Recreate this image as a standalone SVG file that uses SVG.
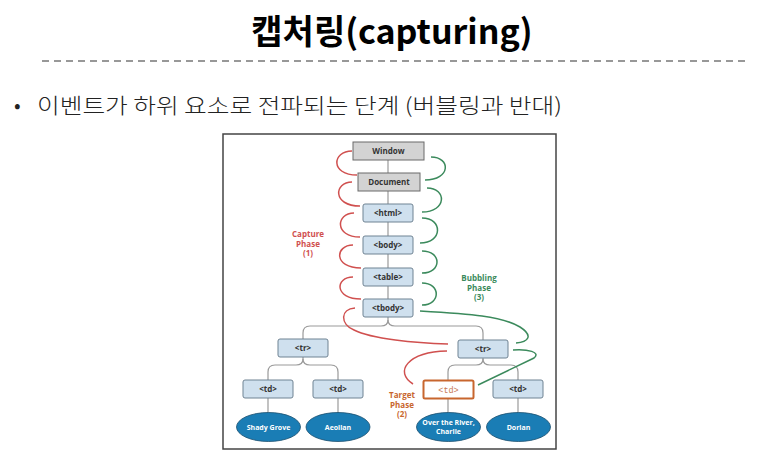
<svg xmlns="http://www.w3.org/2000/svg" width="783" height="468" viewBox="0 0 783 468">
  <style>
    .title { font-family: "Noto Sans CJK KR", "Noto Sans", sans-serif; font-weight: 700; font-size: 34px; fill: #000; }
    .bullet { font-family: "Noto Sans CJK KR", "Noto Sans", sans-serif; font-weight: 300; font-size: 21px; fill: #222; }
    .gbox { fill: #d3d3d3; stroke: #6a6a6a; stroke-width: 1; }
    .bbox { fill: #cfe0ee; stroke: #6f8393; stroke-width: 1; }
    .lbl { font-family: "Open Sans", "Liberation Sans", sans-serif; font-weight: 700; font-size: 8px; fill: #333; text-anchor: middle; }
    .leaf { fill: #1a7db5; stroke: #1b4f6e; stroke-width: 0.8; }
    .leaftxt { font-family: "Open Sans", "Liberation Sans", sans-serif; font-weight: 700; font-size: 7px; fill: #fff; text-anchor: middle; }
    .tree { fill: none; stroke: #9a9a9a; stroke-width: 1.2; }
    .cap { fill: none; stroke: #d0504f; stroke-width: 1.5; }
    .bub { fill: none; stroke: #3b8a5c; stroke-width: 1.5; }
    .phase { font-family: "Open Sans", "Liberation Sans", sans-serif; font-weight: 700; font-size: 8px; text-anchor: middle; }
  </style>

  <!-- heading -->
  <text class="title" x="392" y="44" text-anchor="middle">캡처링(capturing)</text>
  <line x1="42" y1="61" x2="748" y2="61" stroke="#333" stroke-width="1.2" stroke-dasharray="7 5"/>
  <text class="bullet" x="14" y="113">•</text>
  <text class="bullet" x="37" y="113" textLength="525" lengthAdjust="spacingAndGlyphs">이벤트가 하위 요소로 전파되는 단계 (버블링과 반대)</text>

  <!-- figure frame -->
  <rect x="223" y="134" width="333" height="315" fill="#fff" stroke="#444" stroke-width="1.5"/>

  <g id="connectors">
    <!-- DOM tree links -->
    <g class="tree">
      <line x1="388" y1="160" x2="388" y2="173"/>
      <line x1="388" y1="191" x2="388" y2="204"/>
      <line x1="388" y1="222" x2="388" y2="236"/>
      <line x1="388" y1="254" x2="388" y2="268"/>
      <line x1="388" y1="286" x2="388" y2="299"/>
      <path d="M388,317 V320 Q388,326 381,326 H310 Q303,326 303,333 V339"/>
      <path d="M388,320 Q388,326 395,326 H476 Q483,326 483,333 V340"/>
      <path d="M303,357 V359 Q303,365 296,365 H275 Q268,365 268,372 V380"/>
      <path d="M303,359 Q303,365 310,365 H331 Q338,365 338,372 V380"/>
      <path d="M483,358 V359 Q483,365 476,365 H455 Q448,365 448,372 V380"/>
      <path d="M483,359 Q483,365 490,365 H511 Q518,365 518,372 V380"/>
      <line x1="268" y1="398" x2="268" y2="413"/>
      <line x1="338" y1="398" x2="338" y2="413"/>
      <line x1="448" y1="399" x2="448" y2="413"/>
      <line x1="518" y1="398" x2="518" y2="413"/>
    </g>
    <!-- capture phase arcs -->
    <g class="cap">
      <path d="M352,151 C332,151 330,175 357,175"/>
      <path d="M352,182 C334,182 332,206 360,206"/>
      <path d="M354,213 C336,213 334,237 360,237"/>
      <path d="M353,245 C335,245 333,268 361,268"/>
      <path d="M353,277 C335,277 334,299 361,299"/>
      <path d="M355,308 C340,309 340,324 354,330 C372,339 415,343 448,344"/>
      <path d="M447,351 C407,352 394,372 413,384"/>
    </g>
    <!-- bubbling phase arcs -->
    <g class="bub">
      <path d="M431,157 C451,157 451,180 425,180"/>
      <path d="M427,188 C447,188 447,212 422,212"/>
      <path d="M422,218 C443,218 443,243 420,243"/>
      <path d="M422,251 C442,251 442,273 422,273"/>
      <path d="M422,283 C441,283 441,305 422,305"/>
      <path d="M420,311 C470,314 502,316 520,327 C534,336 528,342 516,343"/>
      <path d="M513,350 C528,349 541,352 534,358 L478,385"/>
    </g>
  </g>

  <!-- document nodes -->
  <g id="window"><rect class="gbox" x="353" y="142" width="71" height="18"/><text class="lbl" x="388.5" y="154">Window</text></g>
  <g id="document"><rect class="gbox" x="358" y="173" width="62" height="18"/><text class="lbl" x="389" y="185">Document</text></g>
  <g id="html"><rect class="bbox" x="363" y="204" width="50" height="18" rx="2"/><text class="lbl" x="388" y="216">&lt;html&gt;</text></g>
  <g id="body"><rect class="bbox" x="363" y="236" width="50" height="18" rx="2"/><text class="lbl" x="388" y="248">&lt;body&gt;</text></g>
  <g id="table"><rect class="bbox" x="363" y="268" width="50" height="18" rx="2"/><text class="lbl" x="388" y="280">&lt;table&gt;</text></g>
  <g id="tbody"><rect class="bbox" x="363" y="299" width="50" height="18" rx="2"/><text class="lbl" x="388" y="311">&lt;tbody&gt;</text></g>
  <g id="tr-left"><rect class="bbox" x="278" y="339" width="50" height="18" rx="2"/><text class="lbl" x="303" y="351">&lt;tr&gt;</text></g>
  <g id="tr-right"><rect class="bbox" x="458" y="340" width="50" height="18" rx="2"/><text class="lbl" x="483" y="352">&lt;tr&gt;</text></g>
  <g id="td-1"><rect class="bbox" x="243" y="380" width="50" height="18" rx="2"/><text class="lbl" x="268" y="392">&lt;td&gt;</text></g>
  <g id="td-2"><rect class="bbox" x="313" y="380" width="50" height="18" rx="2"/><text class="lbl" x="338" y="392">&lt;td&gt;</text></g>
  <g id="td-target"><rect x="423.5" y="380.5" width="50" height="18" rx="1.5" fill="#fff" stroke="#c8662e" stroke-width="2"/><text x="448.5" y="392.5" text-anchor="middle" font-family="'Liberation Mono', monospace" font-size="8.5" fill="#c87a55">&lt;td&gt;</text></g>
  <g id="td-4"><rect class="bbox" x="493" y="380" width="50" height="18" rx="2"/><text class="lbl" x="518" y="392">&lt;td&gt;</text></g>

  <!-- text leaves -->
  <g id="leaf-shady-grove"><ellipse class="leaf" cx="268.5" cy="427" rx="32" ry="14.5"/><text class="leaftxt" x="268.5" y="429.5">Shady Grove</text></g>
  <g id="leaf-aeolian"><ellipse class="leaf" cx="338" cy="427" rx="32" ry="14.5"/><text class="leaftxt" x="338" y="429.5">Aeolian</text></g>
  <g id="leaf-over-the-river"><ellipse class="leaf" cx="448.5" cy="427" rx="32" ry="14.5"/><text class="leaftxt" x="448.5" y="425">Over the River,</text><text class="leaftxt" x="448.5" y="434">Charlie</text></g>
  <g id="leaf-dorian"><ellipse class="leaf" cx="518.5" cy="427" rx="32" ry="14.5"/><text class="leaftxt" x="518.5" y="429.5">Dorian</text></g>

  <!-- phase labels -->
  <g id="capture-label" class="phase" fill="#d0504f">
    <text x="308" y="237">Capture</text><text x="308" y="246.5">Phase</text><text x="308" y="256">(1)</text>
  </g>
  <g id="bubbling-label" class="phase" fill="#3b8a5c">
    <text x="479" y="281">Bubbling</text><text x="479" y="290.5">Phase</text><text x="479" y="300">(3)</text>
  </g>
  <g id="target-label" class="phase" fill="#c8662e">
    <text x="402" y="398">Target</text><text x="402" y="407.5">Phase</text><text x="402" y="417">(2)</text>
  </g>
</svg>
